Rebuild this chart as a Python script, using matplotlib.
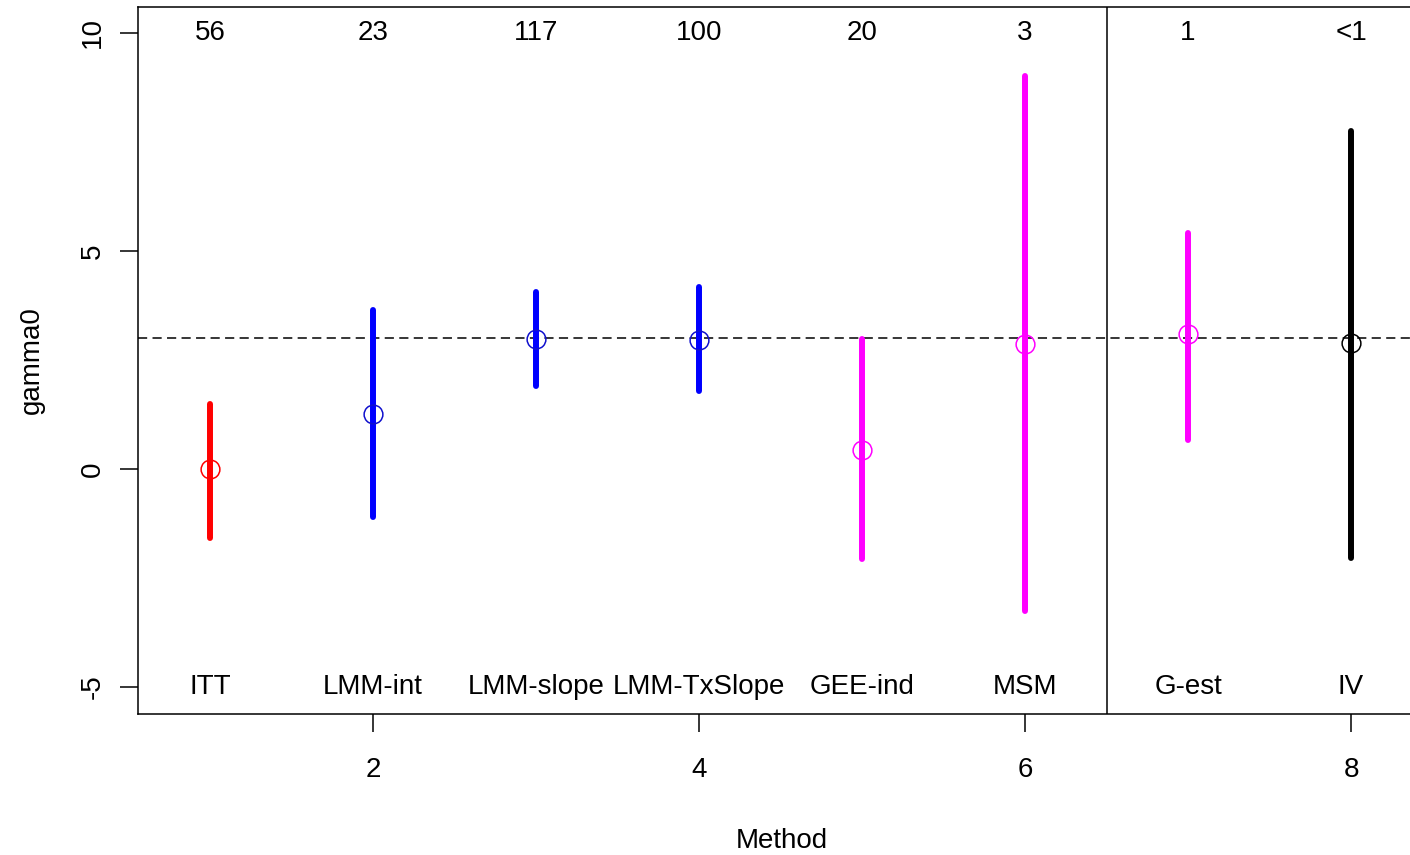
import matplotlib
matplotlib.use("Agg")
import matplotlib.pyplot as plt

plt.rcParams['font.family'] = ['Liberation Sans', 'DejaVu Sans']

methods = ["ITT", "LMM-int", "LMM-slope", "LMM-TxSlope", "GEE-ind", "MSM", "G-est", "IV"]
positions = [1, 2, 3, 4, 5, 6, 7, 8]
estimates = [0.0, 1.26, 2.98, 2.96, 0.44, 2.87, 3.10, 2.88]
lower = [-1.58, -1.10, 1.90, 1.80, -2.06, -3.26, 0.67, -2.04]
upper = [1.49, 3.65, 4.06, 4.17, 2.98, 9.01, 5.41, 7.75]
counts = ["56", "23", "117", "100", "20", "3", "1", "<1"]
colors = ["#ff0000", "#0000ff", "#0000ff", "#0000ff", "#ff00ff", "#ff00ff", "#ff00ff", "#000000"]
marker_colors = ["#ff0000", "#1010cd", "#1010cd", "#1010cd", "#ff00ff", "#ff00ff", "#ff00ff", "#000000"]
true_value = 3
divider = 6.5
xticks = [2, 4, 6, 8]
yticks = [-5, 0, 5, 10]

fig = plt.figure(figsize=(14.1, 8.55), dpi=100)
ax = fig.add_axes([138/1410, 1 - 714/855, (1426 - 138)/1410, (714 - 7)/855])

ax.axhline(true_value, color="black", lw=1.1, ls=(0, (6, 3.5)), zorder=1)
ax.axvline(divider, color="black", lw=1.1, zorder=1)

for x, e, lo, hi, c, mc in zip(positions, estimates, lower, upper, colors, marker_colors):
    ax.plot([x, x], [lo, hi], color=c, lw=4.3, solid_capstyle="round", zorder=2)
    ax.plot([x], [e], marker="o", markersize=13.5, markerfacecolor="none",
            markeredgecolor=mc, markeredgewidth=1.1, zorder=3)

for x, m, n in zip(positions, methods, counts):
    ax.text(x, -5, m, ha="center", va="center", fontsize=20)
    ax.text(x, 10, n, ha="center", va="center", fontsize=20)

ax.set_xlim(0.558, 8.46)
ax.set_ylim(-5.619, 10.596)
ax.set_xticks(xticks)
ax.set_yticks(yticks)
ax.set_yticklabels([str(v) for v in yticks], rotation=90, va="center")
ax.tick_params(axis="both", labelsize=20, length=13, width=1.1, direction="out")
ax.tick_params(axis="y", pad=10)
ax.tick_params(axis="x", pad=18)
for s in ax.spines.values():
    s.set_linewidth(1.1)

ax.set_xlabel("Method", fontsize=20, labelpad=32)
ax.set_ylabel("gamma0", fontsize=20, labelpad=25)

fig.savefig("out.png", dpi=100)
